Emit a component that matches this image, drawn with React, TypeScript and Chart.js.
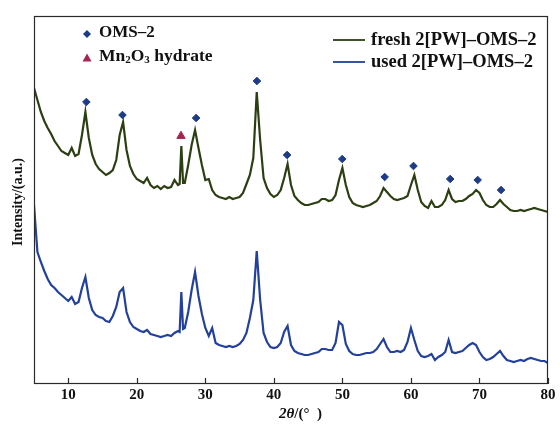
import React, { useEffect, useRef } from "react";
import { Chart, registerables } from "chart.js";

Chart.register(...registerables);

// 2θ grid (degrees)
const twoTheta = [
  5, 5.5, 6, 6.5, 7, 7.5, 8, 8.5, 9, 9.5,
  10, 10.5, 11, 11.5, 12, 12.5, 13, 13.5, 14, 14.5,
  15, 15.5, 16, 16.5, 17, 17.5, 18, 18.5, 19, 19.5,
  20, 20.5, 21, 21.5, 22, 22.5, 23, 23.5, 24, 24.5,
  25, 25.5, 26, 26.25, 26.5, 26.75, 27, 27.5, 28, 28.5, 29, 29.5,
  30, 30.5, 31, 31.5, 32, 32.5, 33, 33.5, 34, 34.5,
  35, 35.5, 36, 36.5, 37, 37.5, 38, 38.5, 39, 39.5,
  40, 40.5, 41, 41.5, 42, 42.5, 43, 43.5, 44, 44.5,
  45, 45.5, 46, 46.5, 47, 47.5, 48, 48.5, 49, 49.5,
  50, 50.5, 51, 51.5, 52, 52.5, 53, 53.5, 54, 54.5,
  55, 55.5, 56, 56.5, 57, 57.5, 58, 58.5, 59, 59.5,
  60, 60.5, 61, 61.5, 62, 62.5, 63, 63.5, 64, 64.5,
  65, 65.5, 66, 66.5, 67, 67.5, 68, 68.5, 69, 69.5,
  70, 70.5, 71, 71.5, 72, 72.5, 73, 73.5, 74, 74.5,
  75, 75.5, 76, 76.5, 77, 77.5, 78, 78.5, 79, 79.5,
  80,
];

// fresh 2[PW]-OMS-2 (a.u., offset)
const freshIntensity = [
  296, 284, 272, 263, 256, 250, 243, 238, 233, 231,
  229, 236, 228, 230, 249, 272, 246, 229, 220, 215,
  212, 209, 211, 214, 224, 249, 262, 234, 218, 210,
  205, 203, 201, 206, 199, 196, 198, 195, 198, 196,
  197, 204, 199, 200, 238, 201, 201, 219, 239, 254, 236, 219,
  204, 205, 194, 189, 187, 186, 185, 187, 185, 186,
  187, 191, 200, 209, 226, 292, 244, 206, 196, 190,
  187, 189, 194, 206, 220, 199, 188, 184, 181, 179,
  179, 180, 181, 182, 185, 185, 183, 184, 189, 204,
  216, 199, 187, 181, 179, 178, 177, 178, 179, 181,
  183, 188, 196, 192, 188, 185, 184, 185, 186, 188,
  199, 209, 194, 182, 178, 176, 183, 177, 177, 179,
  184, 194, 185, 182, 183, 183, 185, 188, 190, 194,
  191, 184, 179, 177, 177, 180, 184, 180, 177, 174,
  173, 173, 174, 173, 174, 175, 176, 175, 174, 173,
  172,
];

// used 2[PW]-OMS-2 (a.u.)
const usedIntensity = [
  179, 132, 122, 113, 105, 99, 96, 92, 89, 86,
  83, 87, 80, 82, 96, 107, 86, 74, 69, 67,
  66, 63, 62, 68, 77, 92, 96, 72, 62, 57,
  55, 53, 52, 54, 50, 49, 48, 47, 48, 49,
  48, 51, 53, 52, 92, 55, 56, 72, 94, 112, 88, 70,
  56, 48, 56, 41, 39, 38, 37, 38, 37, 38,
  40, 44, 51, 66, 84, 133, 84, 51, 42, 37,
  36, 37, 41, 52, 58, 39, 33, 31, 30, 29,
  29, 30, 31, 32, 35, 35, 34, 34, 41, 62,
  59, 40, 33, 30, 29, 29, 30, 31, 31, 32,
  35, 40, 45, 37, 32, 32, 33, 32, 34, 42,
  56, 44, 33, 28, 27, 28, 30, 24, 27, 29,
  32, 44, 32, 31, 32, 33, 36, 39, 41, 39,
  32, 27, 24, 25, 27, 30, 33, 28, 24, 23,
  22, 23, 24, 23, 25, 26, 25, 24, 23, 23,
  21,
];

const xTickValues = [10, 20, 30, 40, 50, 60, 70, 80];

// phase markers
const omsPeakTheta = [12.64, 17.91, 28.65, 37.53, 41.93, 49.98, 56.17, 60.37, 65.73, 69.74, 73.15];
const omsMarkerLevel = [282, 269, 266, 303, 229, 225, 207, 218, 205, 204, 194];
const mnPeakTheta = [26.45];
const mnMarkerLevel = [248];

const FONT = "'Liberation Serif', 'Times New Roman', serif";
const FRESH_COLOR = "#2c3f12";
const USED_COLOR = "#23409a";
const DIAMOND_COLOR = "#1e3c86";
const TRIANGLE_COLOR = "#a8234f";

const decorPlugin = {
  id: "decor",
  afterDraw(chart: any) {
    const ctx = chart.ctx;
    const { left, right, top, bottom } = chart.chartArea;
    const xs = chart.scales.x;
    ctx.save();
    // frame
    ctx.strokeStyle = "#2a2a2a";
    ctx.lineWidth = 1.2;
    ctx.strokeRect(left + 0.5, top + 0.5, right - left - 1, bottom - top - 1);
    // inward ticks
    for (const v of xTickValues) {
      const px = Math.round(xs.getPixelForValue(v)) + 0.5;
      ctx.beginPath();
      ctx.moveTo(px, bottom);
      ctx.lineTo(px, bottom - 6);
      ctx.stroke();
    }
    // axis titles
    ctx.fillStyle = "#111";
    ctx.textBaseline = "middle";
    ctx.font = `bold 14px ${FONT}`;
    ctx.save();
    ctx.translate(18, 202);
    ctx.rotate(-Math.PI / 2);
    ctx.textAlign = "center";
    ctx.fillText("Intensity/(a.u.)", 0, 0);
    ctx.restore();

    ctx.textAlign = "left";
    let x = 279;
    const y = 414;
    ctx.font = `bold italic 15px ${FONT}`;
    ctx.fillText("2", x, y);
    x += ctx.measureText("2").width;
    ctx.fillText("θ", x, y);
    x += ctx.measureText("θ").width;
    ctx.font = `bold 15px ${FONT}`;
    ctx.fillText("/(°  )", x, y);

    // top-left phase legend
    const drawDiamond = (cx: number, cy: number, r: number) => {
      ctx.beginPath();
      ctx.moveTo(cx, cy - r);
      ctx.lineTo(cx + r, cy);
      ctx.lineTo(cx, cy + r);
      ctx.lineTo(cx - r, cy);
      ctx.closePath();
      ctx.fill();
    };
    const drawTriangle = (cx: number, cy: number, r: number) => {
      ctx.beginPath();
      ctx.moveTo(cx, cy - r);
      ctx.lineTo(cx + r, cy + r * 0.8);
      ctx.lineTo(cx - r, cy + r * 0.8);
      ctx.closePath();
      ctx.fill();
    };
    ctx.fillStyle = DIAMOND_COLOR;
    drawDiamond(87, 34, 4);
    ctx.fillStyle = TRIANGLE_COLOR;
    drawTriangle(87, 58, 4.5);

    ctx.fillStyle = "#111";
    ctx.font = `bold 17px ${FONT}`;
    ctx.fillText("OMS–2", 99, 33);
    let tx = 99;
    const ty = 56;
    ctx.font = `bold 17.5px ${FONT}`;
    ctx.fillText("Mn", tx, ty);
    tx += ctx.measureText("Mn").width;
    ctx.font = `bold 11px ${FONT}`;
    ctx.fillText("2", tx, ty + 4);
    tx += ctx.measureText("2").width;
    ctx.font = `bold 17.5px ${FONT}`;
    ctx.fillText("O", tx, ty);
    tx += ctx.measureText("O").width;
    ctx.font = `bold 11px ${FONT}`;
    ctx.fillText("3", tx, ty + 4);
    tx += ctx.measureText("3").width;
    ctx.font = `bold 17.5px ${FONT}`;
    ctx.fillText(" hydrate", tx, ty);

    // series legend (top right)
    ctx.lineWidth = 1.8;
    ctx.strokeStyle = FRESH_COLOR;
    ctx.beginPath();
    ctx.moveTo(333, 40);
    ctx.lineTo(365, 40);
    ctx.stroke();
    ctx.strokeStyle = USED_COLOR;
    ctx.beginPath();
    ctx.moveTo(333, 62);
    ctx.lineTo(365, 62);
    ctx.stroke();
    ctx.fillStyle = "#111";
    ctx.font = `bold 18.5px ${FONT}`;
    ctx.fillText("fresh 2[PW]–OMS–2", 371, 40);
    ctx.fillText("used 2[PW]–OMS–2", 371, 62);
    ctx.restore();
  },
};

export default function App() {
  const ref = useRef<HTMLCanvasElement | null>(null);
  useEffect(() => {
    if (!ref.current) return;
    const chart = new Chart(ref.current, {
      type: "line",
      data: {
        datasets: [
          {
            label: "fresh 2[PW]–OMS–2",
            data: twoTheta.map((t, i) => ({ x: t, y: freshIntensity[i] })),
            borderColor: FRESH_COLOR,
            borderWidth: 2.2,
            pointRadius: 0,
            tension: 0,
            fill: false,
          },
          {
            label: "used 2[PW]–OMS–2",
            data: twoTheta.map((t, i) => ({ x: t, y: usedIntensity[i] })),
            borderColor: USED_COLOR,
            borderWidth: 2.2,
            pointRadius: 0,
            tension: 0,
            fill: false,
          },
          {
            type: "scatter",
            label: "OMS–2",
            data: omsPeakTheta.map((t, i) => ({ x: t, y: omsMarkerLevel[i] })),
            pointStyle: "rectRot",
            pointRadius: 3.8,
            backgroundColor: DIAMOND_COLOR,
            borderColor: DIAMOND_COLOR,
            showLine: false,
          } as any,
          {
            type: "scatter",
            label: "Mn2O3 hydrate",
            data: mnPeakTheta.map((t, i) => ({ x: t, y: mnMarkerLevel[i] })),
            pointStyle: "triangle",
            pointRadius: 4.8,
            backgroundColor: TRIANGLE_COLOR,
            borderColor: TRIANGLE_COLOR,
            showLine: false,
          } as any,
        ],
      },
      options: {
        animation: false,
        responsive: false,
        maintainAspectRatio: false,
        layout: { padding: { left: 34, right: 12, top: 16, bottom: 0 } },
        plugins: { legend: { display: false }, tooltip: { enabled: false } },
        scales: {
          x: {
            type: "linear",
            min: 5,
            max: 80,
            afterBuildTicks: (s: any) => {
              s.ticks = xTickValues.map((v) => ({ value: v }));
            },
            afterFit: (s: any) => {
              s.height = 46;
            },
            grid: { display: false, drawTicks: false },
            border: { display: false },
            ticks: {
              padding: 2,
              color: "#111",
              autoSkip: false,
              maxRotation: 0,
              font: { family: FONT, weight: "bold", size: 15 },
            },
          },
          y: { min: 0, max: 368, display: false },
        },
      },
      plugins: [decorPlugin],
    });
    return () => chart.destroy();
  }, []);
  return (
    <div style={{ position: "fixed", left: 0, top: 0, width: 560, height: 430, background: "#fff" }}>
      <canvas ref={ref} width={560} height={430} style={{ width: 560, height: 430 }} />
    </div>
  );
}
